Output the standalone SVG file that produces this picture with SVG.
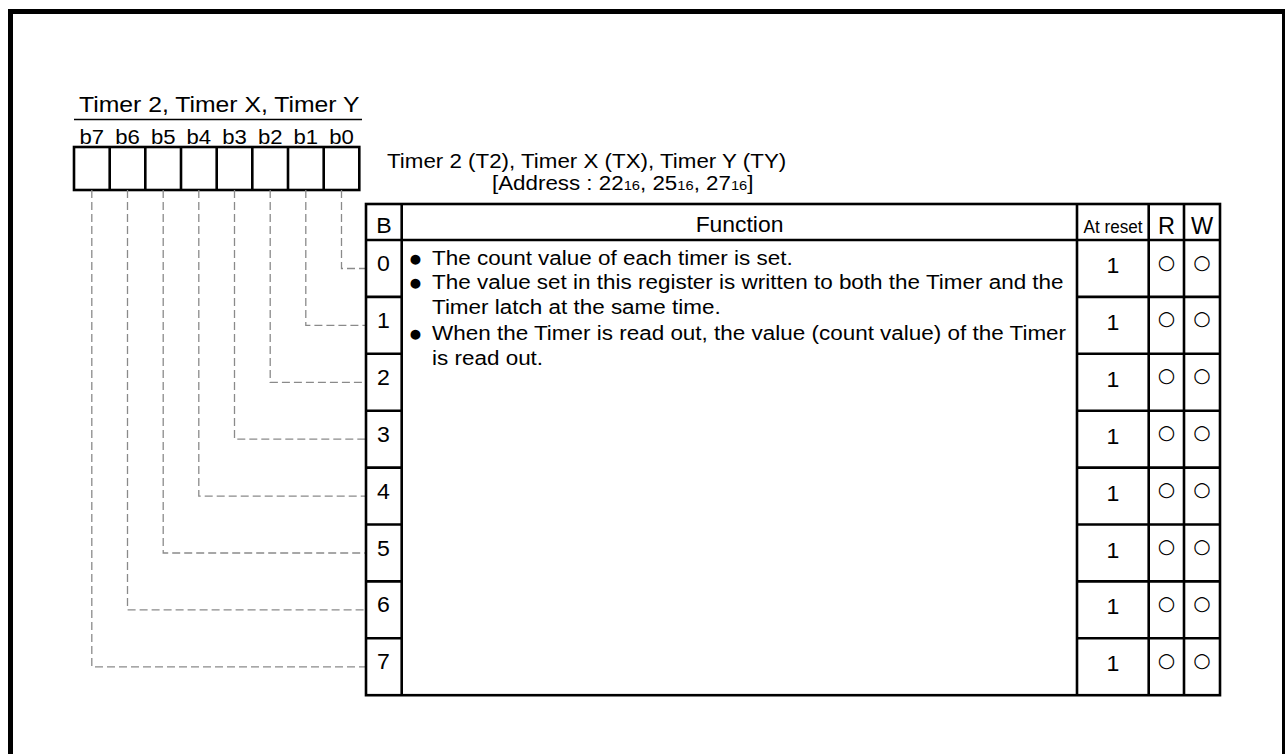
<svg xmlns="http://www.w3.org/2000/svg" width="1285" height="754" viewBox="0 0 1285 754">
<style>
.t{font-family:"Liberation Sans",Arial,Helvetica,sans-serif;fill:#000}
.o{font-family:"DejaVu Sans",sans-serif;fill:#000;text-anchor:middle}
.ln{stroke:#000;stroke-width:2.6;fill:none}
.dash{stroke:#8a8a8a;stroke-width:1.3;stroke-dasharray:8 4;fill:none}
.c{text-anchor:middle}
</style>
<rect x="0" y="0" width="1285" height="754" fill="#fff"/>
<rect x="10.5" y="11.5" width="1274" height="800" fill="none" stroke="#000" stroke-width="5"/>

<g id="register">
  <text class="t" font-size="22.5" transform="translate(79,111.7) scale(1.1,1)">Timer 2, Timer X, Timer Y</text>
  <line x1="74" y1="119.5" x2="362" y2="119.5" stroke="#000" stroke-width="1.6"/>
  <g font-size="20.5">
    <text class="t c" transform="translate(91.8,143.5) scale(1.08,1)">b7</text>
    <text class="t c" transform="translate(127.5,143.5) scale(1.08,1)">b6</text>
    <text class="t c" transform="translate(163.2,143.5) scale(1.08,1)">b5</text>
    <text class="t c" transform="translate(198.8,143.5) scale(1.08,1)">b4</text>
    <text class="t c" transform="translate(234.5,143.5) scale(1.08,1)">b3</text>
    <text class="t c" transform="translate(270.2,143.5) scale(1.08,1)">b2</text>
    <text class="t c" transform="translate(305.8,143.5) scale(1.08,1)">b1</text>
    <text class="t c" transform="translate(341.5,143.5) scale(1.08,1)">b0</text>
  </g>
  <rect class="ln" x="74" y="147" width="285.3" height="43"/>
  <path class="ln" d="M109.7,147V190M145.3,147V190M181,147V190M216.7,147V190M252.3,147V190M288,147V190M323.7,147V190"/>
</g>

<g id="caption">
  <text class="t" font-size="20.5" transform="translate(387,168.3) scale(1.09,1)">Timer 2 (T2), Timer X (TX), Timer Y (TY)</text>
  <text class="t" font-size="20.5" transform="translate(492,190) scale(1.09,1)">[Address : 22<tspan font-size="13.5">16</tspan>, 25<tspan font-size="13.5">16</tspan>, 27<tspan font-size="13.5">16</tspan>]</text>
</g>

<g id="connectors">
  <path class="dash" d="M341.5,190V268.5H366"/>
  <path class="dash" d="M305.8,190V325.4H366"/>
  <path class="dash" d="M270.2,190V382.3H366"/>
  <path class="dash" d="M234.5,190V439.2H366"/>
  <path class="dash" d="M198.8,190V496.1H366"/>
  <path class="dash" d="M163.2,190V553H366"/>
  <path class="dash" d="M127.5,190V609.9H366"/>
  <path class="dash" d="M91.8,190V666.8H366"/>
</g>

<g id="table">
  <rect class="ln" x="366" y="204" width="854" height="491.2"/>
  <path class="ln" d="M401.7,204V695.2M1077,204V695.2M1148.7,204V695.2M1184,204V695.2M366,240H1220"/>
  <path class="ln" d="M366,296.9H401.7M366,353.8H401.7M366,410.7H401.7M366,467.6H401.7M366,524.5H401.7M366,581.4H401.7M366,638.3H401.7"/>
  <path class="ln" d="M1077,296.9H1220M1077,353.8H1220M1077,410.7H1220M1077,467.6H1220M1077,524.5H1220M1077,581.4H1220M1077,638.3H1220"/>
  <g id="header">
    <text class="t c" font-size="22.5" transform="translate(384,233) scale(1.03,1)">B</text>
    <text class="t c" font-size="22" transform="translate(739.5,232) scale(1.04,1)">Function</text>
    <text class="t c" font-size="17.5" x="1113" y="232.5" textLength="59" lengthAdjust="spacingAndGlyphs">At reset</text>
    <text class="t c" font-size="23" transform="translate(1166.5,233.5) scale(1.02,1)">R</text>
    <text class="t c" font-size="23" transform="translate(1202,233.5) scale(1.02,1)">W</text>
  </g>
  <g id="bits" font-size="22">
    <text class="t c" transform="translate(383.5,271) scale(1.05,1)">0</text>
    <text class="t c" transform="translate(383.5,327.9) scale(1.05,1)">1</text>
    <text class="t c" transform="translate(383.5,384.8) scale(1.05,1)">2</text>
    <text class="t c" transform="translate(383.5,441.7) scale(1.05,1)">3</text>
    <text class="t c" transform="translate(383.5,498.6) scale(1.05,1)">4</text>
    <text class="t c" transform="translate(383.5,555.5) scale(1.05,1)">5</text>
    <text class="t c" transform="translate(383.5,612.4) scale(1.05,1)">6</text>
    <text class="t c" transform="translate(383.5,669.3) scale(1.05,1)">7</text>
  </g>
  <g id="function" font-size="21">
    <text class="t c" font-size="23" x="415.5" y="265.5">●</text>
    <text class="t" transform="translate(432,265) scale(1.07,1)">The count value of each timer is set.</text>
    <text class="t c" font-size="23" x="415.5" y="289.5">●</text>
    <text class="t" transform="translate(432,289) scale(1.07,1)">The value set in this register is written to both the Timer and the</text>
    <text class="t" transform="translate(432,314) scale(1.07,1)">Timer latch at the same time.</text>
    <text class="t c" font-size="23" x="415.5" y="340.5">●</text>
    <text class="t" transform="translate(432,340) scale(1.07,1)">When the Timer is read out, the value (count value) of the Timer</text>
    <text class="t" transform="translate(432,365) scale(1.07,1)">is read out.</text>
  </g>
  <g id="reset" font-size="22">
    <text class="t c" transform="translate(1113,273) scale(1.05,1)">1</text>
    <text class="t c" transform="translate(1113,329.9) scale(1.05,1)">1</text>
    <text class="t c" transform="translate(1113,386.8) scale(1.05,1)">1</text>
    <text class="t c" transform="translate(1113,443.7) scale(1.05,1)">1</text>
    <text class="t c" transform="translate(1113,500.6) scale(1.05,1)">1</text>
    <text class="t c" transform="translate(1113,557.5) scale(1.05,1)">1</text>
    <text class="t c" transform="translate(1113,614.4) scale(1.05,1)">1</text>
    <text class="t c" transform="translate(1113,671.3) scale(1.05,1)">1</text>
  </g>
  <g id="rw" font-size="20">
    <text class="o" x="1166.5" y="268.5">○</text><text class="o" x="1202" y="268.5">○</text>
    <text class="o" x="1166.5" y="325.4">○</text><text class="o" x="1202" y="325.4">○</text>
    <text class="o" x="1166.5" y="382.3">○</text><text class="o" x="1202" y="382.3">○</text>
    <text class="o" x="1166.5" y="439.2">○</text><text class="o" x="1202" y="439.2">○</text>
    <text class="o" x="1166.5" y="496.1">○</text><text class="o" x="1202" y="496.1">○</text>
    <text class="o" x="1166.5" y="553">○</text><text class="o" x="1202" y="553">○</text>
    <text class="o" x="1166.5" y="609.9">○</text><text class="o" x="1202" y="609.9">○</text>
    <text class="o" x="1166.5" y="666.8">○</text><text class="o" x="1202" y="666.8">○</text>
  </g>
</g>
</svg>
